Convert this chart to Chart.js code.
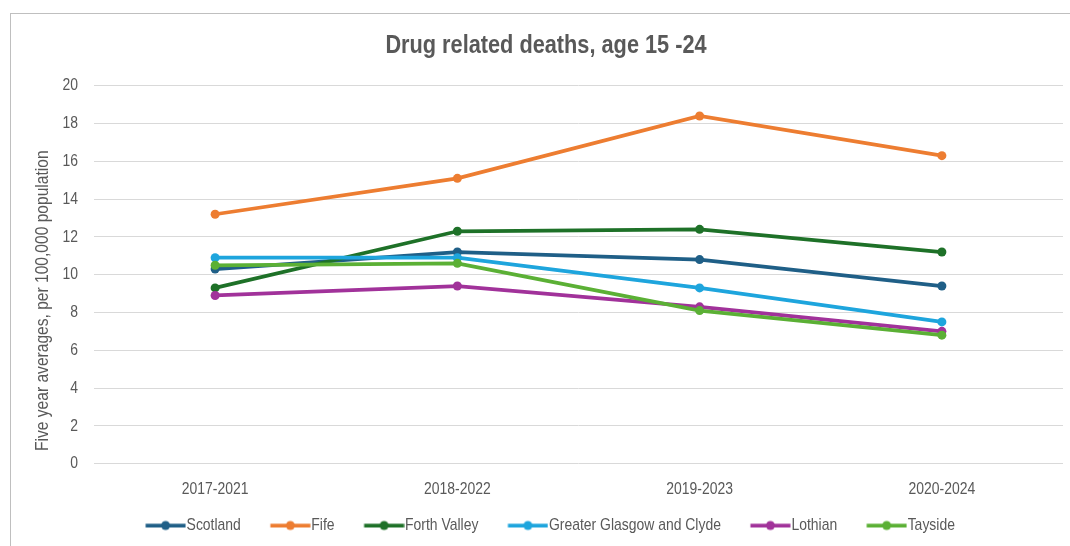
<!DOCTYPE html>
<html>
<head>
<meta charset="utf-8">
<script src="https://cdn.jsdelivr.net/npm/chart.js@4/dist/chart.umd.min.js"></script>
<style>
  html, body { margin: 0; padding: 0; background: #ffffff; overflow: hidden; }
  #frame { position: absolute; left: 10px; top: 13px; width: 1100px; height: 600px;
           border: 1px solid #bfbfbf; box-sizing: border-box; }
  #wrap { position: absolute; left: 0; top: 0; width: 1070px; height: 546px; }
</style>
</head>
<body>
<div id="frame"></div>
<div id="wrap"><canvas id="chart" width="1070" height="546"></canvas></div>
<script>
// Five-year rolling periods
const periods = ['2017-2021', '2018-2022', '2019-2023', '2020-2024'];

// Rates per 100,000 population, age 15-24
const scotland     = [10.3, 11.2, 10.8, 9.4];
const fife         = [13.2, 15.1, 18.4, 16.3];
const forthValley  = [9.3, 12.3, 12.4, 11.2];
const glasgowClyde = [10.9, 10.9, 9.3, 7.5];
const lothian      = [8.9, 9.4, 8.3, 7.0];
const tayside      = [10.5, 10.6, 8.1, 6.8];

const seriesNames = ['Scotland', 'Fife', 'Forth Valley', 'Greater Glasgow and Clyde', 'Lothian', 'Tayside'];
const seriesData = [scotland, fife, forthValley, glasgowClyde, lothian, tayside];
const seriesColors = ['#1f5f87', '#ed7d31', '#1e7128', '#1ea5dd', '#a1329a', '#5bb035'];

const yAxisTitle = 'Five year averages, per 100,000 population';

const FONT = '"Liberation Sans", Arial, sans-serif';
const TEXT = '#595959';
const NARROW = 0.82;   // horizontal squeeze for a narrow typeface look

const canvas = document.getElementById('chart');
const ctx = canvas.getContext('2d');

// Condensed text: every label is drawn squeezed along its own baseline,
// and measured with the same factor so Chart.js lays it out correctly.
(function condense(c) {
  const fill = c.fillText.bind(c);
  const measure = c.measureText.bind(c);
  c.fillText = function (text, x, y, maxWidth) {
    c.save();
    c.translate(x, y);
    c.scale(NARROW, 1);
    if (maxWidth === undefined) fill(text, 0, 0);
    else fill(text, 0, 0, maxWidth / NARROW);
    c.restore();
  };
  c.measureText = function (text) {
    const m = measure(text);
    return {
      width: m.width * NARROW,
      actualBoundingBoxAscent: m.actualBoundingBoxAscent,
      actualBoundingBoxDescent: m.actualBoundingBoxDescent,
      actualBoundingBoxLeft: m.actualBoundingBoxLeft * NARROW,
      actualBoundingBoxRight: m.actualBoundingBoxRight * NARROW
    };
  };
})(ctx);

// Legend swatch: a short line with a round marker, flush against the label.
// The swatch box is wider than the line so that it also spaces the items.
const SWATCH_BOX = 61;
function swatch(color) {
  const c = document.createElement('canvas');
  c.width = SWATCH_BOX + 16; c.height = 12;
  const g = c.getContext('2d');
  const end = SWATCH_BOX + 15.5, start = end - 40;
  g.strokeStyle = color; g.lineWidth = 3.75;
  g.beginPath(); g.moveTo(start, 6); g.lineTo(end, 6); g.stroke();
  g.fillStyle = color;
  g.beginPath(); g.arc((start + end) / 2, 6, 4.5, 0, Math.PI * 2); g.fill();
  return c;
}

// Nudge the legend row left so the visible swatches sit centred
const legendShift = {
  id: 'legendShift',
  afterLayout(chart) {
    const dx = -10;
    chart.legend.left += dx;
    chart.legend.right += dx;
  }
};

// Rotated value-axis caption
const axisCaption = {
  id: 'axisCaption',
  afterDraw(chart) {
    const c = chart.ctx;
    const area = chart.chartArea;
    c.save();
    c.translate(43, (area.top + area.bottom) / 2 + 26);
    c.rotate(-Math.PI / 2);
    c.font = '19px ' + FONT;
    c.fillStyle = TEXT;
    c.textAlign = 'center';
    c.textBaseline = 'middle';
    c.fillText(yAxisTitle, 0, 0);
    c.restore();
  }
};

const datasets = seriesNames.map((name, i) => ({
  label: name,
  data: seriesData[i],
  borderColor: seriesColors[i],
  backgroundColor: seriesColors[i],
  borderWidth: 3.75,
  pointRadius: 4.5,
  pointHoverRadius: 4.5,
  pointBackgroundColor: seriesColors[i],
  pointBorderWidth: 0,
  tension: 0,
  order: seriesNames.length - i,
  pointStyle: 'circle'
}));

new Chart(ctx, {
  type: 'line',
  data: { labels: periods, datasets },
  plugins: [legendShift, axisCaption],
  options: {
    responsive: false,
    animation: false,
    layout: { padding: { top: 0, right: 7, bottom: 2, left: 29 } },
    plugins: {
      title: {
        display: true,
        text: 'Drug related deaths, age 15 -24',
        color: TEXT,
        font: { family: FONT, size: 26.5, weight: 'bold' },
        padding: { top: 30, bottom: 24 }
      },
      legend: {
        position: 'bottom',
        labels: {
          color: TEXT,
          font: { family: FONT, size: 17 },
          usePointStyle: true,
          pointStyleWidth: SWATCH_BOX,
          padding: 1,
          generateLabels: chart => chart.data.datasets.map((ds, i) => ({
            text: ds.label,
            fillStyle: ds.borderColor,
            strokeStyle: ds.borderColor,
            fontColor: TEXT,
            lineWidth: 0,
            pointStyle: swatch(ds.borderColor),
            datasetIndex: i,
            hidden: false
          }))
        }
      },
      tooltip: { enabled: false }
    },
    scales: {
      x: {
        offset: true,
        grid: { display: false, drawTicks: false },
        border: { display: false },
        ticks: { color: TEXT, font: { family: FONT, size: 17 }, padding: 16 }
      },
      y: {
        min: 0,
        max: 20,
        afterFit(scale) { scale.width = 65; },
        ticks: { stepSize: 2, color: TEXT, font: { family: FONT, size: 17 }, padding: 16 },
        grid: { color: '#d9d9d9', lineWidth: 1, drawTicks: false },
        border: { display: false }
      }
    }
  }
});
</script>
</body>
</html>
